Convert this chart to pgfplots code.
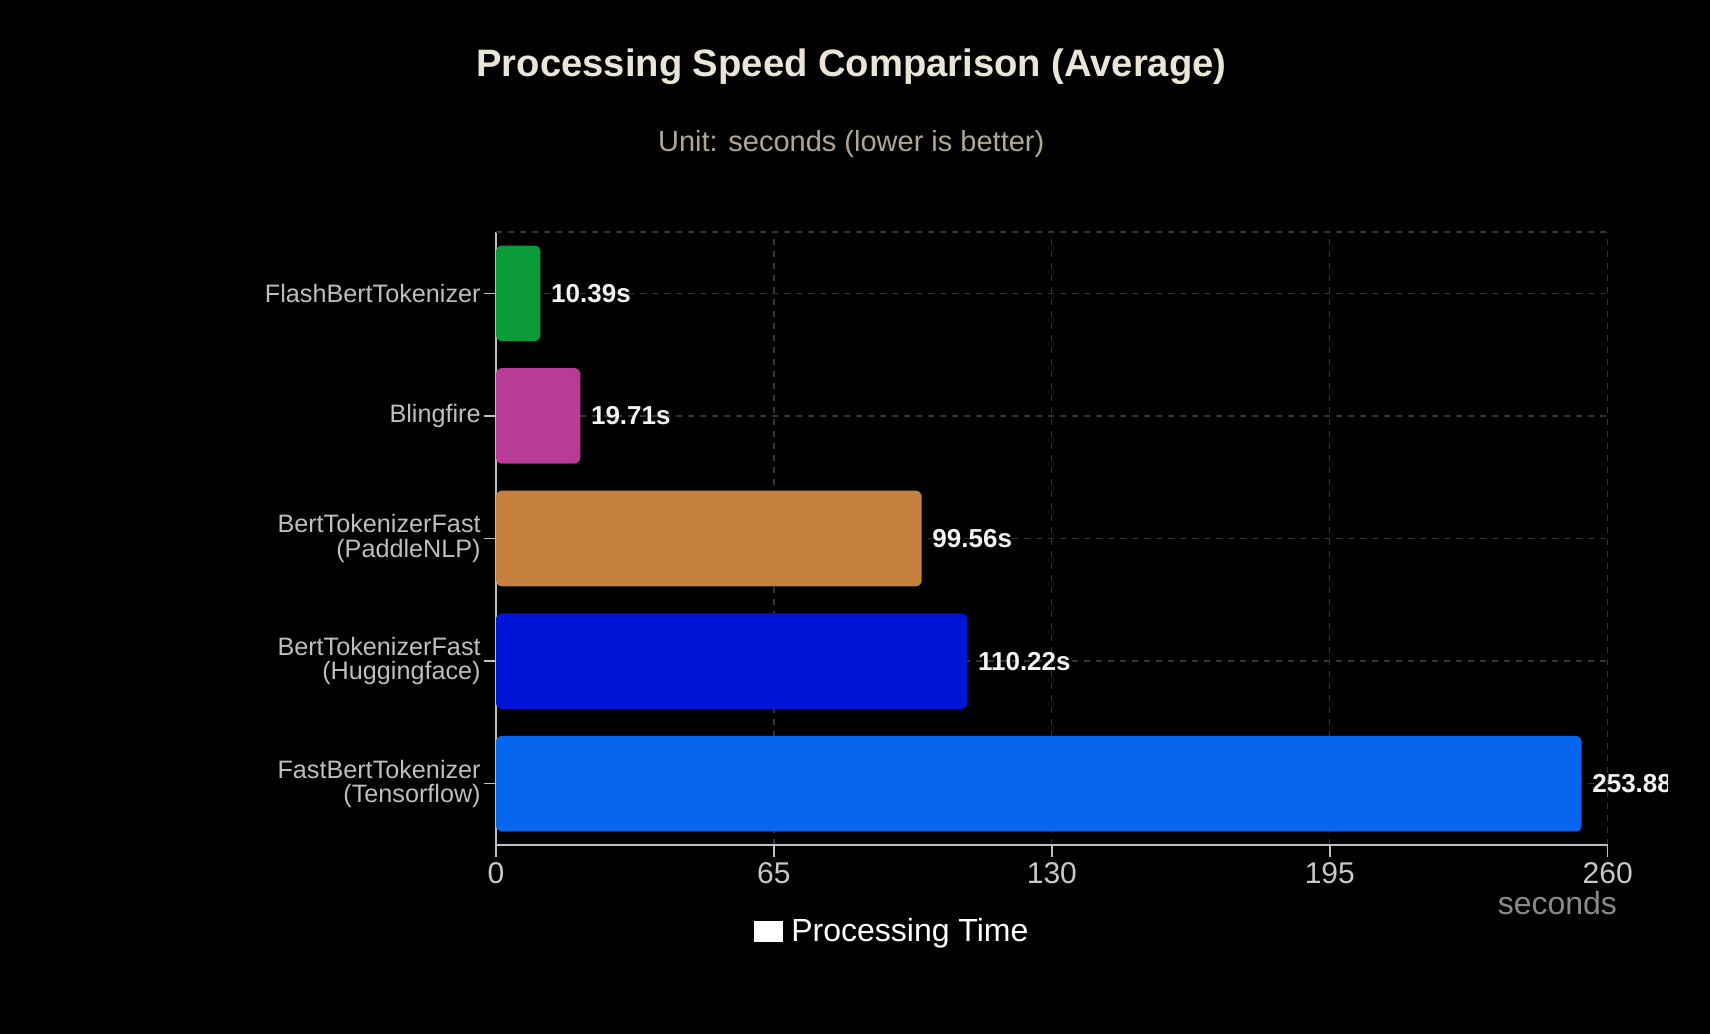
\documentclass[border=0pt]{standalone}
\usepackage{fontspec}
\setmainfont{Liberation Sans}
\usepackage{pgfplots}
\pgfplotsset{compat=1.18}
\definecolor{titlec}{RGB}{235,229,216}
\definecolor{subc}{RGB}{176,166,150}
\definecolor{ytickc}{RGB}{190,190,190}
\definecolor{xtickc}{RGB}{200,200,200}
\definecolor{secc}{RGB}{138,138,138}
\definecolor{axisc}{RGB}{190,190,190}
\definecolor{gridc}{RGB}{52,52,52}
\definecolor{valc}{RGB}{242,242,242}
\definecolor{cflash}{RGB}{10,154,58}
\definecolor{cbling}{RGB}{184,60,149}
\definecolor{cpaddle}{RGB}{197,128,62}
\definecolor{chug}{RGB}{0,20,214}
\definecolor{ctf}{RGB}{6,102,238}
\begin{document}
\begin{tikzpicture}[x=1pt,y=1pt]
\fill[black] (0,0) rectangle (855,517);
\node[anchor=base, text=titlec, font=\bfseries\fontsize{19.1}{23}\selectfont, inner sep=0pt] at (425.75,478.5) {Processing Speed Comparison (Average)};
\node[anchor=base, text=subc, font=\fontsize{14.5}{17}\selectfont, inner sep=0pt] at (425.6,441.2) {Unit: seconds (lower is better)};
\begin{axis}[
  at={(248pt,94.5pt)}, anchor=south west,
  scale only axis, width=555.85pt, height=306.5pt,
  xmin=0, xmax=260, ymin=-0.5, ymax=4.5,
  /pgf/number format/assume math mode=true,
  axis x line*=bottom, axis y line*=left,
  axis line style={-, draw=axisc, line width=0.75pt},
  tick align=outside, major tick length=6pt,
  tick style={draw=axisc, line width=0.75pt},
  xtick={0,65,130,195,260},
  ytick={0,1,2,3,4},
  yticklabels={{FastBertTokenizer\\(Tensorflow)},{BertTokenizerFast\\(Huggingface)},{BertTokenizerFast\\(PaddleNLP)},Blingfire,FlashBertTokenizer},
  xmajorgrids=true, ymajorgrids=true,
  major grid style={draw=gridc, dash pattern=on 3pt off 3pt, line width=0.6pt},
  extra y ticks={4.5}, extra y tick labels={},
  extra y tick style={major tick length=0pt, grid=major},
  xticklabel style={font=\fontsize{15}{18}\selectfont, text=xtickc, inner sep=0pt, anchor=north, yshift=-2.8pt},
  yticklabel style={font=\fontsize{12.6}{12.2}\selectfont, text=ytickc, align=right, inner sep=0pt, anchor=east, xshift=-1.5pt},
  xlabel={seconds},
  xlabel style={at={(axis description cs:1,0)}, anchor=base east, xshift=4.85pt, yshift=-34.5pt, inner sep=0pt, font=\fontsize{16}{19}\selectfont, text=secc},
  xbar, bar width=47.8pt, bar shift=0pt,
  point meta=explicit symbolic,
  nodes near coords,
  nodes near coords style={anchor=west, inner sep=0pt, xshift=5.2pt, font=\bfseries\fontsize{13}{15}\selectfont, text=valc},
  legend style={at={(0.3553,-0.1411)}, anchor=center, draw=none, fill=none, text=white, font=\fontsize{16}{19}\selectfont, inner sep=0pt, outer sep=0pt, nodes={inner sep=0pt}, /tikz/every odd column/.append style={column sep=4.5pt}},
]
\addplot[forget plot, fill=cflash, draw=none, rounded corners=3pt] coordinates {(10.39,4) [10.39s]};
\addplot[forget plot, fill=cbling, draw=none, rounded corners=3pt] coordinates {(19.71,3) [19.71s]};
\addplot[forget plot, fill=cpaddle, draw=none, rounded corners=3pt] coordinates {(99.56,2) [99.56s]};
\addplot[forget plot, fill=chug, draw=none, rounded corners=3pt] coordinates {(110.22,1) [110.22s]};
\addplot[forget plot, fill=ctf, draw=none, rounded corners=3pt] coordinates {(253.88,0) [253.88s]};
\addlegendimage{legend image code/.code={\fill[white] (0pt,-5pt) rectangle (14pt,5pt);}}
\addlegendentry{Processing Time}
\end{axis}
\fill[black] (833.75,112) rectangle (855,139);
\end{tikzpicture}
\end{document}
